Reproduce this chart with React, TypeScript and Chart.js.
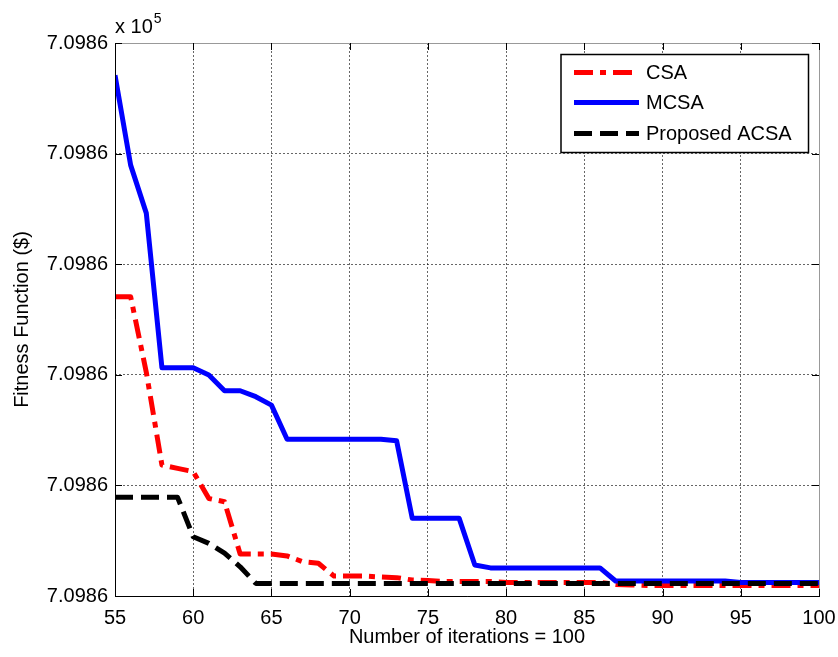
import React, { useEffect, useRef } from 'react';
import { Chart, registerables } from 'chart.js';

Chart.register(...registerables);

const iterations = [
  55, 56, 57, 58, 59, 60, 61, 62, 63, 64, 65, 66, 67, 68, 69, 70, 71, 72, 73, 74, 75, 76, 77,
  78, 79, 80, 81, 82, 83, 84, 85, 86, 87, 88, 89, 90, 91, 92, 93, 94, 95, 96, 97, 98, 99, 100,
];

const csa = [
  709861.353, 709861.353, 709861.012, 709860.592, 709860.577, 709860.562, 709860.441, 709860.426,
  709860.19, 709860.19, 709860.19, 709860.181, 709860.155, 709860.148, 709860.09, 709860.09,
  709860.09, 709860.086, 709860.083, 709860.072, 709860.07, 709860.066, 709860.066, 709860.066,
  709860.066, 709860.061, 709860.061, 709860.061, 709860.061, 709860.061, 709860.061, 709860.061,
  709860.052, 709860.05, 709860.047, 709860.047, 709860.047, 709860.047, 709860.047, 709860.047,
  709860.047, 709860.047, 709860.047, 709860.047, 709860.047, 709860.047,
];

const mcsa = [
  709862.354, 709861.948, 709861.731, 709861.032, 709861.032, 709861.032, 709860.999, 709860.928,
  709860.928, 709860.901, 709860.863, 709860.709, 709860.709, 709860.709, 709860.709, 709860.709,
  709860.709, 709860.709, 709860.702, 709860.351, 709860.351, 709860.351, 709860.351, 709860.14,
  709860.127, 709860.127, 709860.127, 709860.127, 709860.127, 709860.127, 709860.127, 709860.127,
  709860.068, 709860.068, 709860.068, 709860.068, 709860.068, 709860.068, 709860.068, 709860.068,
  709860.061, 709860.061, 709860.061, 709860.061, 709860.061, 709860.061,
];

const acsa = [
  709860.446, 709860.446, 709860.446, 709860.446, 709860.446, 709860.268, 709860.238, 709860.194,
  709860.132, 709860.057, 709860.057, 709860.057, 709860.057, 709860.057, 709860.057, 709860.057,
  709860.057, 709860.057, 709860.057, 709860.057, 709860.057, 709860.057, 709860.057, 709860.057,
  709860.057, 709860.057, 709860.057, 709860.057, 709860.057, 709860.057, 709860.057, 709860.057,
  709860.057, 709860.057, 709860.057, 709860.057, 709860.057, 709860.057, 709860.057, 709860.057,
  709860.057, 709860.057, 709860.057, 709860.057, 709860.057, 709860.057,
];

const seriesNames = ['CSA', 'MCSA', 'Proposed ACSA'];
const xTitle = 'Number of iterations = 100';
const yTitle = 'Fitness Function ($)';
const xMin = 55;
const xMax = 100;
const xStep = 5;
const yMin = 709860;
const yMax = 709862.5;
const yStep = 0.5;
const yScaleFactor = 1e5;

const FONT = "'Liberation Sans', Arial, sans-serif";

const decorPlugin = {
  id: 'matlabDecor',
  afterDatasetsDraw(chart: any) {
    const { ctx, chartArea } = chart;
    const { left, right, top, bottom } = chartArea;
    const xs = chart.scales.x;
    const ys = chart.scales.y;
    ctx.save();
    ctx.setLineDash([]);
    ctx.lineWidth = 1;
    ctx.strokeStyle = '#999';
    ctx.beginPath();
    ctx.moveTo(left, top + 0.5);
    ctx.lineTo(right, top + 0.5);
    ctx.moveTo(right + 0.5, top);
    ctx.lineTo(right + 0.5, bottom);
    ctx.stroke();
    ctx.strokeStyle = '#000';
    ctx.beginPath();
    ctx.moveTo(left + 0.5, top);
    ctx.lineTo(left + 0.5, bottom + 0.5);
    ctx.lineTo(right + 1, bottom + 0.5);
    ctx.stroke();
    const tl = 7;
    ctx.beginPath();
    xs.ticks.forEach((t: any) => {
      const px = Math.round(xs.getPixelForValue(t.value)) + 0.5;
      ctx.moveTo(px, bottom);
      ctx.lineTo(px, bottom - tl);
      ctx.moveTo(px, top);
      ctx.lineTo(px, top + tl);
    });
    ys.ticks.forEach((t: any) => {
      const py = Math.round(ys.getPixelForValue(t.value)) + 0.5;
      ctx.moveTo(left, py);
      ctx.lineTo(left + tl, py);
      ctx.moveTo(right, py);
      ctx.lineTo(right - tl, py);
    });
    ctx.stroke();

    ctx.fillStyle = '#000';
    ctx.textBaseline = 'alphabetic';
    ctx.textAlign = 'left';
    ctx.font = `20px ${FONT}`;
    ctx.fillText('x 10', left, top - 10);
    const w = ctx.measureText('x 10').width;
    ctx.font = `14px ${FONT}`;
    ctx.fillText('5', left + w + 1, top - 20);

    const bx = right - 258;
    const by = top + 11.5;
    const bw = 247.5;
    const bh = 98;
    ctx.fillStyle = '#fff';
    ctx.fillRect(bx, by, bw, bh);
    ctx.strokeStyle = '#000';
    ctx.lineWidth = 1.5;
    ctx.strokeRect(bx, by, bw, bh);
    const rows = [18, 48, 79];
    chart.data.datasets.forEach((ds: any, i: number) => {
      const y = by + rows[i];
      ctx.save();
      ctx.strokeStyle = ds.borderColor;
      ctx.lineWidth = ds.borderWidth;
      ctx.setLineDash(ds.borderDash || []);
      ctx.lineCap = 'butt';
      ctx.beginPath();
      ctx.moveTo(bx + 13, y);
      ctx.lineTo(bx + 78, y);
      ctx.stroke();
      ctx.restore();
      ctx.fillStyle = '#000';
      ctx.font = `20px ${FONT}`;
      ctx.textBaseline = 'middle';
      ctx.textAlign = 'left';
      ctx.fillText(ds.label, bx + 85, y + 1);
    });
    ctx.restore();
  },
};

export default function App() {
  const canvasRef = useRef<HTMLCanvasElement | null>(null);

  useEffect(() => {
    const canvas = canvasRef.current;
    if (!canvas) return;
    const mk = (arr: number[]) => iterations.map((x, i) => ({ x, y: arr[i] }));
    const chart = new Chart(canvas, {
      type: 'line',
      data: {
        datasets: [
          {
            label: seriesNames[0],
            data: mk(csa),
            borderColor: '#ff0000',
            backgroundColor: '#ff0000',
            borderWidth: 5,
            borderDash: [19, 7, 6, 7],
            pointRadius: 0,
            fill: false,
            order: 3,
            borderJoinStyle: 'round',
          },
          {
            label: seriesNames[1],
            data: mk(mcsa),
            borderColor: '#0000ff',
            backgroundColor: '#0000ff',
            borderWidth: 5,
            pointRadius: 0,
            fill: false,
            order: 2,
            borderJoinStyle: 'round',
          },
          {
            label: seriesNames[2],
            data: mk(acsa),
            borderColor: '#000000',
            backgroundColor: '#000000',
            borderWidth: 5,
            borderDash: [18, 8],
            pointRadius: 0,
            fill: false,
            order: 1,
            borderJoinStyle: 'round',
          },
        ],
      },
      options: {
        animation: false,
        responsive: false,
        maintainAspectRatio: false,
        layout: { padding: { left: 0, right: 19, top: 43, bottom: 0 } },
        plugins: { legend: { display: false }, tooltip: { enabled: false } },
        scales: {
          x: {
            type: 'linear',
            min: xMin,
            max: xMax,
            afterFit: (s: any) => {
              s.height = 61;
              s.paddingLeft = 0;
              s.paddingRight = 0;
            },
            ticks: {
              stepSize: xStep,
              color: '#000',
              padding: 10,
              maxRotation: 0,
              font: { family: FONT, size: 20 },
            },
            grid: { color: 'rgba(0,0,0,0.6)', drawTicks: false, lineWidth: 1 },
            border: { display: false, dash: [2, 2] },
            title: {
              display: true,
              text: xTitle,
              color: '#000',
              font: { family: FONT, size: 20 },
              padding: { top: 0, bottom: 8 },
            },
          },
          y: {
            type: 'linear',
            min: yMin,
            max: yMax,
            afterFit: (s: any) => {
              s.width = 115;
              s.paddingTop = 0;
              s.paddingBottom = 0;
            },
            ticks: {
              stepSize: yStep,
              color: '#000',
              padding: 7,
              font: { family: FONT, size: 20 },
              callback: (v: any) => (Number(v) / yScaleFactor).toFixed(4),
            },
            grid: { color: 'rgba(0,0,0,0.6)', drawTicks: false, lineWidth: 1 },
            border: { display: false, dash: [2, 2] },
            title: {
              display: true,
              text: yTitle,
              color: '#000',
              font: { family: FONT, size: 20 },
              padding: { top: 10, bottom: 0 },
            },
          },
        },
      },
      plugins: [decorPlugin],
    } as any);
    return () => chart.destroy();
  }, []);

  return (
    <div style={{ position: 'fixed', left: 0, top: 0, width: 838, height: 657, background: '#fff' }}>
      <canvas ref={canvasRef} width={838} height={657} style={{ display: 'block', width: 838, height: 657 }} />
    </div>
  );
}
